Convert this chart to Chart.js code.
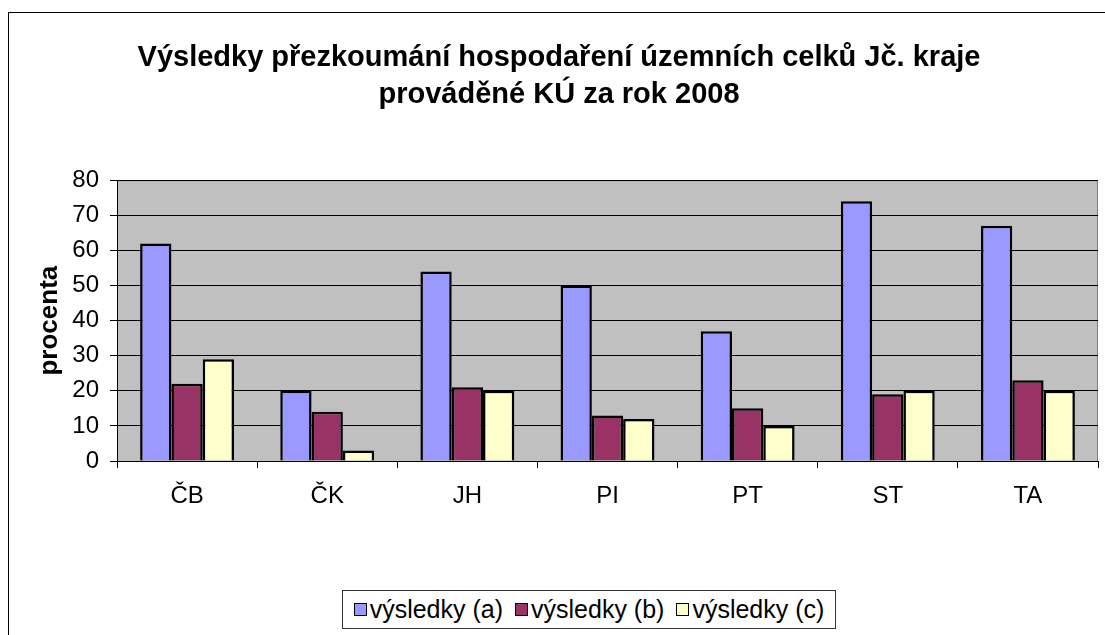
<!DOCTYPE html>
<html>
<head>
<meta charset="utf-8">
<script src="https://cdn.jsdelivr.net/npm/chart.js@4.4.1/dist/chart.umd.min.js"></script>
<style>
  html, body { margin: 0; padding: 0; background: #fff; overflow: hidden; }
  #wrap { position: relative; width: 1105px; height: 635px; }
  #frame { position: absolute; left: 8px; top: 12px; width: 1105px; height: 635px; border: 1px solid #000; box-sizing: border-box; }
  canvas { position: absolute; left: 0; top: 0; }
  #legend {
    position: absolute; left: 342px; top: 590px; width: 494px; height: 39px;
    border: 1px solid #333; box-sizing: border-box; background: #fff;
    display: flex; align-items: center; justify-content: center;
    font: 25px Arial, "Liberation Sans", sans-serif; color: #000; white-space: nowrap;
  }
  #legend .item { display: flex; align-items: center; margin: 0 6px; }
  #legend .key { width: 11px; height: 11px; border: 1px solid #000; margin-right: 3px; }
</style>
</head>
<body>
<div id="wrap">
  <div id="frame"></div>
  <canvas id="chart" width="1105" height="635"></canvas>
  <div id="legend"></div>
</div>
<script>
// data
const categories = ['ČB', 'ČK', 'JH', 'PI', 'PT', 'ST', 'TA'];
const seriesA = [62, 20, 54, 50, 37, 74, 67];
const seriesB = [22, 14, 21, 13, 15, 19, 23];
const seriesC = [29, 3, 20, 12, 10, 20, 20];
const seriesNames = ['výsledky (a)', 'výsledky (b)', 'výsledky (c)'];
const seriesColors = ['#9999FF', '#993366', '#FFFFCC'];
const yTicks = [0, 10, 20, 30, 40, 50, 60, 70, 80];

const FONT = 'Arial, "Liberation Sans", sans-serif';

const plotBg = {
  id: 'plotBg',
  beforeDraw(chart) {
    const { ctx, chartArea: a } = chart;
    ctx.save();
    ctx.fillStyle = '#C0C0C0';
    ctx.fillRect(a.left, a.top, a.right - a.left, a.bottom - a.top);
    ctx.strokeStyle = '#808080';
    ctx.lineWidth = 1;
    ctx.strokeRect(a.left + 0.5, a.top + 0.5, a.right - a.left - 1, a.bottom - a.top);
    ctx.restore();
  }
};

const datasets = [seriesA, seriesB, seriesC].map((d, i) => ({
  label: seriesNames[i],
  data: d,
  backgroundColor: seriesColors[i],
  borderColor: '#000',
  borderWidth: 2.5,
  borderSkipped: 'bottom',
  categoryPercentage: 0.67,
  barPercentage: 1.0,
}));

new Chart(document.getElementById('chart'), {
  type: 'bar',
  data: { labels: categories, datasets },
  plugins: [plotBg],
  options: {
    responsive: false,
    animation: false,
    layout: { padding: { left: 20, right: 7, top: 0, bottom: 0 } },
    plugins: {
      legend: { display: false },
      tooltip: { enabled: false },
      title: {
        display: true,
        text: ['Výsledky přezkoumání hospodaření územních celků Jč. kraje', 'prováděné KÚ za rok 2008'],
        color: '#000',
        font: { family: FONT, size: 29, weight: 'bold', lineHeight: 1.28 },
        padding: { top: 39, bottom: 67 },
      },
    },
    scales: {
      x: {
        grid: { display: true, drawOnChartArea: false, drawTicks: true, tickLength: 7, color: '#000', offset: true },
        border: { display: true, color: '#000', width: 1 },
        ticks: { color: '#000', font: { family: FONT, size: 24 }, padding: 14, maxRotation: 0 },
        afterFit(scale) { scale.height = 174; },
      },
      y: {
        min: 0,
        max: 80,
        afterBuildTicks(scale) { scale.ticks = yTicks.map(v => ({ value: v })); },
        grid: { color: '#000', lineWidth: 1, drawTicks: true, tickLength: 7 },
        border: { display: true, color: '#000', width: 1 },
        ticks: { color: '#000', font: { family: FONT, size: 24 }, padding: 11 },
        title: {
          display: true,
          text: 'procenta',
          color: '#000',
          font: { family: FONT, size: 26, weight: 'bold', lineHeight: 1.2 },
          padding: { top: 14, bottom: 0 },
        },
        afterFit(scale) { scale.width = 97; },
      },
    },
  },
});

// legend drawn as html box like the original
const legendEl = document.getElementById('legend');
legendEl.innerHTML = seriesNames.map((n, i) =>
  `<span class="item"><span class="key" style="background:${seriesColors[i]}"></span>${n}</span>`
).join('');
</script>
</body>
</html>
